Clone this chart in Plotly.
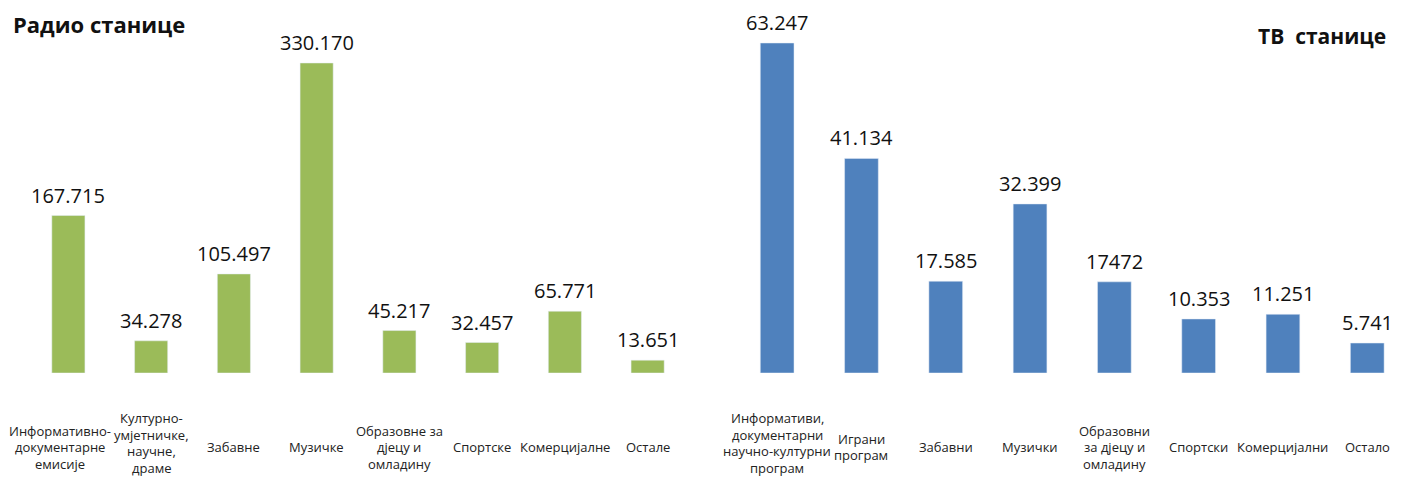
import plotly.graph_objects as go

radio_categories = ["Информативно-<br>документарне<br>емисије",
                    "Културно-<br>умјетничке,<br>научне,<br>драме",
                    "Забавне", "Музичке",
                    "Образовне за<br>дјецу и<br>омладину",
                    "Спортске", "Комерцијалне", "Остале"]
radio_values = [167715, 34278, 105497, 330170, 45217, 32457, 65771, 13651]
radio_labels = ["167.715", "34.278", "105.497", "330.170", "45.217", "32.457", "65.771", "13.651"]

tv_categories = ["Информативи,<br>документарни<br>научно-културни<br>програм",
                 "Играни<br>програм", "Забавни", "Музички",
                 "Образовни<br>за дјецу и<br>омладину",
                 "Спортски", "Комерцијални", "Остало"]
tv_values = [63247, 41134, 17585, 32399, 17472, 10353, 11251, 5741]
tv_labels = ["63.247", "41.134", "17.585", "32.399", "17472", "10.353", "11.251", "5.741"]

GREEN = "#9BBB59"
BLUE = "#4F81BD"
FONT = "Open Sans"
OFF = 8  # page body margin
W, H = 1404 - 2 * OFF, 486 - 2 * OFF
BASE_PX = 373 - OFF


def px_x(p):
    return (p - OFF) / W


def px_y(p):
    return (H - (p - OFF)) / H


fig = go.Figure()
fig.add_trace(go.Bar(x=radio_categories, y=radio_values, marker_color=GREEN,
                     xaxis="x", yaxis="y", width=0.4, hoverinfo="skip"))
fig.add_trace(go.Bar(x=tv_categories, y=tv_values, marker_color=BLUE,
                     xaxis="x2", yaxis="y2", width=0.4, hoverinfo="skip"))

annotations = []
LINE = 16.5
for cats, vals, labs, xr, yr in [(radio_categories, radio_values, radio_labels, "x", "y"),
                                  (tv_categories, tv_values, tv_labels, "x2", "y2")]:
    for k, (c, v, l) in enumerate(zip(cats, vals, labs)):
        annotations.append(dict(x=c, y=v, xref=xr, yref=yr, text=l, showarrow=False,
                                yanchor="bottom", yshift=5,
                                font=dict(family=FONT, size=20, color="#111111")))
        lines = c.split("<br>")
        n = len(lines)
        xs = -8 if (xr == "x" and k == 0) else 0
        center = 447 if n < 4 else 443
        for i, ln in enumerate(lines):
            yc = center + (i - (n - 1) / 2) * LINE
            annotations.append(dict(x=c, y=px_y(yc), xref=xr, yref="paper", text=ln,
                                    showarrow=False, yanchor="middle", xshift=xs,
                                    font=dict(family=FONT, size=13, color="#222222")))

annotations.append(dict(x=px_x(11), y=px_y(24), xref="paper", yref="paper",
                        text="<b>Радио станице</b>", showarrow=False,
                        xanchor="left", yanchor="middle",
                        font=dict(family=FONT, size=22, color="#111111")))
annotations.append(dict(x=px_x(1388), y=px_y(36), xref="paper", yref="paper",
                        text="<b>ТВ\u00a0\u00a0станице</b>", showarrow=False,
                        xanchor="right", yanchor="middle",
                        font=dict(family=FONT, size=21, color="#111111")))

ydom = [px_y(373), 1]
axis_off = dict(showticklabels=False, showgrid=False, zeroline=False, showline=False, ticks="")
span = 373 - OFF
tv_units = (1404 - OFF - 735) / 84.3
fig.update_layout(
    width=W, height=H, margin=dict(l=0, r=0, t=0, b=0),
    paper_bgcolor="white", plot_bgcolor="white", showlegend=False,
    xaxis=dict(domain=[px_x(27), px_x(689)], range=[-0.5, 7.5], type="category", **axis_off),
    yaxis=dict(domain=ydom, range=[0, 330170 * span / 310], **axis_off),
    xaxis2=dict(domain=[px_x(735), 1.0], range=[-0.5, -0.5 + tv_units],
                type="category", anchor="y2", **axis_off),
    yaxis2=dict(domain=ydom, range=[0, 63247 * span / 330], anchor="x2", **axis_off),
    annotations=annotations,
)
fig.write_html("out.html")
